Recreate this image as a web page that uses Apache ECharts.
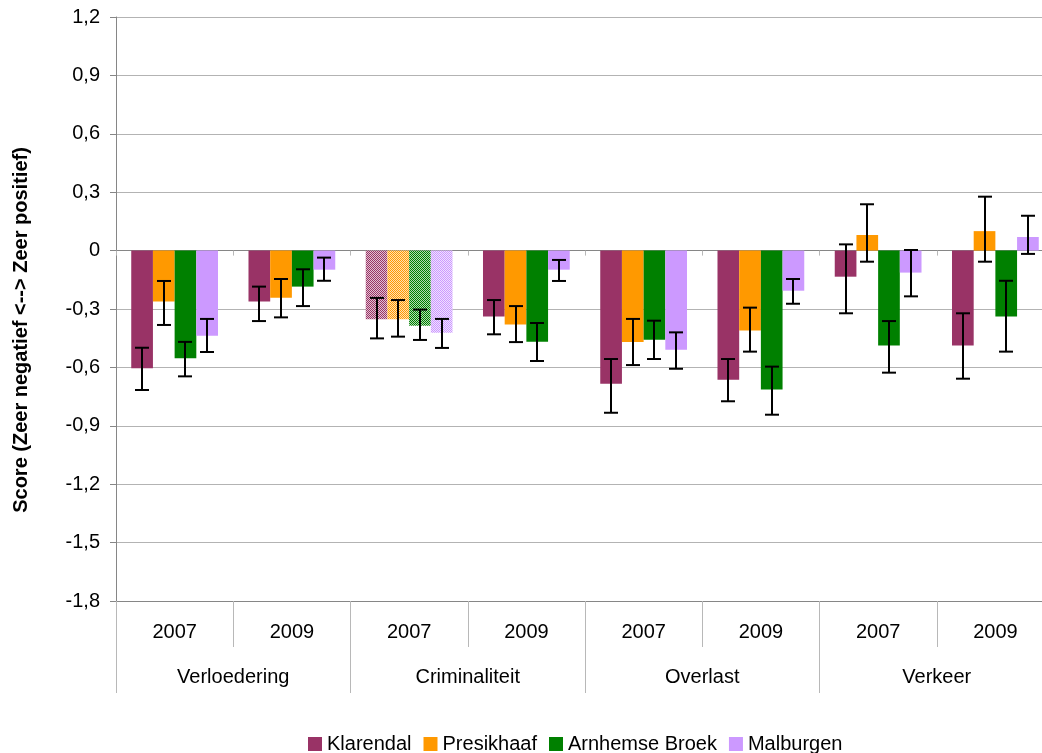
<!DOCTYPE html>
<html>
<head>
<meta charset="utf-8">
<script src="https://cdn.jsdelivr.net/npm/echarts@6/dist/echarts.min.js"></script>
<style>
html,body{margin:0;padding:0;background:#fff;overflow:hidden;width:1042px;height:753px;}
#chart{width:1100px;height:753px;}
</style>
</head>
<body>
<div id="chart"></div>
<script>
const years = ['2007','2009','2007','2009','2007','2009','2007','2009'];
const groups = ['Verloedering','Criminaliteit','Overlast','Verkeer'];
const seriesNames = ['Klarendal','Presikhaaf','Arnhemse Broek','Malburgen'];
const seriesColors = ['#993366','#FF9900','#008000','#CC99FF'];
const yAxisTitle = 'Score (Zeer negatief <--> Zeer positief)';

const klarendal      = [-0.605, -0.262, -0.353, -0.339, -0.684, -0.663, -0.134, -0.488];
const klarendalLow   = [-0.716, -0.362, -0.451, -0.430, -0.833, -0.774, -0.322, -0.658];
const klarendalHigh  = [-0.499, -0.185, -0.243, -0.254, -0.557, -0.557,  0.032, -0.322];

const presikhaaf     = [-0.262, -0.242, -0.353, -0.380, -0.469, -0.411,  0.080,  0.100];
const presikhaafLow  = [-0.382, -0.343, -0.442, -0.470, -0.588, -0.519, -0.057, -0.057];
const presikhaafHigh = [-0.156, -0.146, -0.254, -0.285, -0.351, -0.293,  0.238,  0.277];

const arnhemseBroek     = [-0.553, -0.185, -0.386, -0.468, -0.458, -0.714, -0.488, -0.339];
const arnhemseBroekLow  = [-0.646, -0.285, -0.459, -0.567, -0.557, -0.843, -0.627, -0.519];
const arnhemseBroekHigh = [-0.469, -0.096, -0.303, -0.372, -0.360, -0.596, -0.362, -0.155];

const malburgen      = [-0.437, -0.098, -0.422, -0.098, -0.509, -0.206, -0.113,  0.070];
const malburgenLow   = [-0.521, -0.155, -0.500, -0.156, -0.607, -0.273, -0.235, -0.017];
const malburgenHigh  = [-0.351, -0.036, -0.351, -0.048, -0.420, -0.146,  0.003,  0.179];

const hatchedIndex = 2; // Criminaliteit 2007 drawn with a dotted pattern

const values = [klarendal, presikhaaf, arnhemseBroek, malburgen];
const lows = [klarendalLow, presikhaafLow, arnhemseBroekLow, malburgenLow];
const highs = [klarendalHigh, presikhaafHigh, arnhemseBroekHigh, malburgenHigh];

const CATGAP = 0.26;

function makePattern(color) {
  const c = document.createElement('canvas');
  c.width = 2; c.height = 2;
  const ctx = c.getContext('2d');
  ctx.fillStyle = color;
  ctx.fillRect(0, 0, 2, 2);
  ctx.fillStyle = 'rgba(255,255,255,0.7)';
  ctx.fillRect(1, 0, 1, 1);
  ctx.fillRect(0, 1, 1, 1);
  return { image: c, repeat: 'repeat' };
}

const FONT = 'Liberation Sans, Arial, sans-serif';
const series = [];
seriesNames.forEach((name, i) => {
  series.push({
    name: name,
    type: 'bar',
    xAxisIndex: 0,
    barGap: '0%',
    barCategoryGap: (CATGAP * 100) + '%',
    itemStyle: { color: seriesColors[i] },
    data: values[i].map((v, k) => k === hatchedIndex
      ? { value: v, itemStyle: { color: makePattern(seriesColors[i]) } }
      : v),
    z: 2
  });
});
seriesNames.forEach((name, i) => {
  series.push({
    name: name + ' fout',
    type: 'custom',
    xAxisIndex: 0,
    z: 5,
    silent: true,
    data: lows[i].map((lo, k) => [k, lo, highs[i][k]]),
    renderItem: function (params, api) {
      const k = api.value(0);
      const pLo = api.coord([k, api.value(1)]);
      const pHi = api.coord([k, api.value(2)]);
      const band = api.size([1, 0])[0];
      const bw = band * (1 - CATGAP) / 4;
      const x = Math.round(pLo[0] + (i - 1.5) * bw);
      const half = 7;
      const style = { stroke: '#000', lineWidth: 2 };
      return {
        type: 'group',
        children: [
          { type: 'line', shape: { x1: x, y1: pLo[1], x2: x, y2: pHi[1] }, style: style },
          { type: 'line', shape: { x1: x - half, y1: pLo[1], x2: x + half, y2: pLo[1] }, style: style },
          { type: 'line', shape: { x1: x - half, y1: pHi[1], x2: x + half, y2: pHi[1] }, style: style }
        ]
      };
    }
  });
});

const chart = echarts.init(document.getElementById('chart'), null, { renderer: 'canvas' });
chart.setOption({
  animation: false,
  backgroundColor: '#fff',
  textStyle: { fontFamily: FONT },
  grid: { left: 116, top: 17, width: 938, height: 584, containLabel: false },
  legend: {
    data: seriesNames,
    top: 734,
    left: 308,
    padding: 0,
    icon: 'rect',
    itemWidth: 14,
    itemHeight: 14,
    itemGap: 12,
    textStyle: { fontSize: 20, color: '#000', fontFamily: FONT }
  },
  graphic: [{
    type: 'text',
    x: 21,
    y: 330,
    rotation: Math.PI / 2,
    style: {
      text: yAxisTitle,
      fontSize: 20,
      fontWeight: 'bold',
      fontFamily: FONT,
      fill: '#000',
      align: 'center',
      verticalAlign: 'middle'
    }
  }],
  xAxis: [
    {
      type: 'category',
      data: years,
      position: 'bottom',
      boundaryGap: true,
      axisLine: { onZero: false, lineStyle: { color: '#868686', width: 1 } },
      axisTick: { show: true, length: 46, interval: 0, lineStyle: { color: '#b8b8b8' } },
      axisLabel: { interval: 0, margin: 21, fontSize: 20, color: '#000', fontFamily: FONT },
      splitLine: { show: false }
    },
    {
      type: 'category',
      data: groups,
      position: 'bottom',
      boundaryGap: true,
      axisLine: { show: false, onZero: false },
      axisTick: { show: true, length: 92, interval: 0, lineStyle: { color: '#b8b8b8' } },
      axisLabel: { interval: 0, margin: 66, fontSize: 20, color: '#000', fontFamily: FONT },
      splitLine: { show: false }
    },
    {
      type: 'category',
      data: years,
      position: 'bottom',
      boundaryGap: true,
      axisLine: { show: true, onZero: true, lineStyle: { color: '#868686', width: 1 } },
      axisTick: { show: true, length: 5, interval: 0, lineStyle: { color: '#b8b8b8' } },
      axisLabel: { show: false },
      splitLine: { show: false }
    }
  ],
  yAxis: {
    type: 'value',
    min: -1.8,
    max: 1.2,
    interval: 0.3,
    axisLine: { show: true, lineStyle: { color: '#868686', width: 1 } },
    axisTick: { show: true, length: 6, lineStyle: { color: '#868686' } },
    axisLabel: {
      fontSize: 20, color: '#000', margin: 16, fontFamily: FONT,
      formatter: function (v) {
        if (Math.abs(v) < 1e-9) return '0';
        return v.toFixed(1).replace('.', ',');
      }
    },
    splitLine: { show: true, lineStyle: { color: '#b3b3b3', width: 1 } }
  },
  series: series
});
</script>
</body>
</html>
